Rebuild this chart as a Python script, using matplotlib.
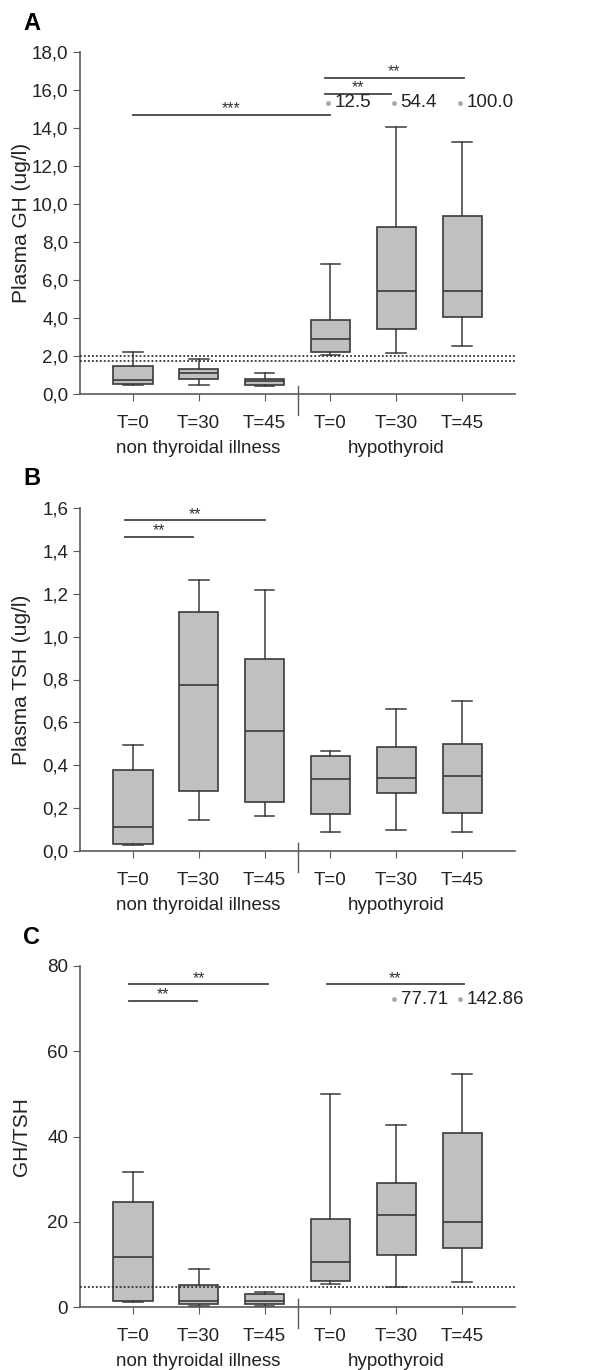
import matplotlib
matplotlib.use("Agg")
import matplotlib.pyplot as plt
from matplotlib.ticker import FuncFormatter

plt.rcParams['font.family'] = ['Liberation Sans', 'DejaVu Sans']

positions = [1, 2, 3, 4, 5, 6]
tick_labels = ['T=0', 'T=30', 'T=45', 'T=0', 'T=30', 'T=45']
groups = ['non thyroidal illness', 'hypothyroid']
group_pos = [2, 5]

# panel A: plasma GH (ug/l)
gh_lo = [0.45, 0.49, 0.40, 2.07, 2.14, 2.54]
gh_q1 = [0.53, 0.77, 0.47, 2.21, 3.44, 4.04]
gh_med = [0.74, 1.12, 0.68, 2.88, 5.42, 5.42]
gh_q3 = [1.47, 1.32, 0.81, 3.89, 8.79, 9.37]
gh_hi = [2.23, 1.84, 1.09, 6.84, 14.07, 13.28]
gh_ref = [2.0, 1.75]
gh_out_pos = [4, 5, 6]
gh_out_lab = ['12.5', '54.4', '100.0']
gh_out_y = 15.33
gh_sig = [(1.0, 4.0, 14.68, '***'), (3.92, 4.92, 15.8, '**'), (3.92, 6.02, 16.65, '**')]

# panel B: plasma TSH (ug/l)
tsh_lo = [0.03, 0.143, 0.162, 0.090, 0.098, 0.087]
tsh_q1 = [0.033, 0.279, 0.230, 0.171, 0.270, 0.179]
tsh_med = [0.11, 0.774, 0.561, 0.335, 0.340, 0.350]
tsh_q3 = [0.377, 1.115, 0.897, 0.441, 0.487, 0.501]
tsh_hi = [0.495, 1.263, 1.218, 0.466, 0.662, 0.701]
tsh_sig = [(0.88, 1.91, 1.466, '**'), (0.88, 3.0, 1.542, '**')]

# panel C: GH/TSH
r_lo = [1.2, 0.2, 0.2, 5.3, 4.7, 5.9]
r_q1 = [1.4, 0.8, 0.63, 6.2, 12.2, 13.85]
r_med = [11.7, 1.4, 1.34, 10.5, 21.5, 20.0]
r_q3 = [24.6, 5.2, 3.05, 20.7, 29.1, 40.9]
r_hi = [31.6, 8.9, 3.6, 50.0, 42.7, 54.6]
r_ref = [4.8]
r_out_pos = [5, 6]
r_out_lab = ['77.71', '142.86']
r_out_y = 72.2
r_sig = [(0.95, 1.97, 71.8, '**'), (0.95, 3.05, 75.7, '**'), (3.94, 6.03, 75.7, '**')]

line_c = '#3a3a3a'
fill_c = '#c0c0c0'
axis_c = '#5a5a5a'

fig = plt.figure(figsize=(5.93, 13.7), dpi=100)
W, H = 593, 1370


def make_ax(top_px, bot_px):
    return fig.add_axes([80 / W, 1 - bot_px / H, 435 / W, (bot_px - top_px) / H])


def panel(ax, lo, q1, med, q3, hi, ymax, yticks, fmt, ylabel, letter, sig,
          refs=(), out_pos=(), out_lab=(), out_y=None):
    stats = []
    for i in range(len(positions)):
        stats.append({'whislo': lo[i], 'q1': q1[i], 'med': med[i],
                      'q3': q3[i], 'whishi': hi[i], 'fliers': []})
    ax.bxp(stats, positions=positions, widths=0.6, patch_artist=True,
           showfliers=False,
           boxprops=dict(facecolor=fill_c, edgecolor=line_c, linewidth=1.2),
           medianprops=dict(color=line_c, linewidth=1.2),
           whiskerprops=dict(color=line_c, linewidth=1.1),
           capprops=dict(color=line_c, linewidth=1.1))
    for r in refs:
        ax.axhline(r, color='#333333', linestyle=(0, (1.0, 1.2)), linewidth=1.3, zorder=3)
    ax.set_xlim(0.2, 6.8)
    ax.set_ylim(0, ymax)
    ax.set_yticks(yticks)
    ax.yaxis.set_major_formatter(FuncFormatter(fmt))
    ax.set_xticks(positions)
    ax.set_xticklabels(tick_labels)
    ax.tick_params(axis='both', colors=axis_c, labelcolor='#222222',
                   labelsize=13.5, length=5, direction='out')
    ax.tick_params(axis='x', pad=10)
    for s in ['top', 'right']:
        ax.spines[s].set_visible(False)
    for s in ['left', 'bottom']:
        ax.spines[s].set_color(axis_c)
        ax.spines[s].set_linewidth(1.2)
    ax.set_ylabel(ylabel, fontsize=15, color='#222222')
    ax.yaxis.set_label_coords(-0.112, 0.5)
    # divider between groups
    trans = ax.get_xaxis_transform()
    h_ax = ax.get_position().height * H
    ax.plot([3.5, 3.5], [8 / h_ax, -21 / h_ax], transform=trans,
            color=axis_c, linewidth=1, clip_on=False)
    for gp, g in zip(group_pos, groups):
        ax.annotate(g, xy=(gp, 0), xycoords=trans, xytext=(0, -54),
                    textcoords='offset pixels', ha='center', va='center',
                    fontsize=13.5, color='#222222')
    for x0, x1, y, st in sig:
        ax.plot([x0, x1], [y, y], color='#444444', linewidth=1.3, clip_on=False)
        ax.annotate(st, xy=((x0 + x1) / 2, y), xytext=(0, -1),
                    textcoords='offset points', ha='center', va='bottom',
                    fontsize=11.5, color='#333333')
    for p, lab in zip(out_pos, out_lab):
        ax.plot(p - 0.04, out_y, 'o', color='#aaaaaa', markersize=2.5, clip_on=False)
        ax.annotate(lab, xy=(p, out_y), xytext=(3, 0), textcoords='offset points',
                    ha='left', va='center', fontsize=13.5, color='#222222',
                    annotation_clip=False)
    top_px = H * (1 - ax.get_position().y1)
    fig.text(23 / W, 1 - (top_px - 29) / H, letter, fontsize=17,
             fontweight='bold', ha='left', va='center')


axA = make_ax(52, 394)
panel(axA, gh_lo, gh_q1, gh_med, gh_q3, gh_hi, 18, [0, 2, 4, 6, 8, 10, 12, 14, 16, 18],
      lambda v, p: ('%.1f' % v).replace('.', ','), 'Plasma GH (ug/l)', 'A', gh_sig,
      refs=gh_ref, out_pos=gh_out_pos, out_lab=gh_out_lab, out_y=gh_out_y)

axB = make_ax(508, 851)
panel(axB, tsh_lo, tsh_q1, tsh_med, tsh_q3, tsh_hi, 1.6,
      [0, 0.2, 0.4, 0.6, 0.8, 1.0, 1.2, 1.4, 1.6],
      lambda v, p: ('%.1f' % v).replace('.', ','), 'Plasma TSH (ug/l)', 'B', tsh_sig)

axC = make_ax(966, 1307)
panel(axC, r_lo, r_q1, r_med, r_q3, r_hi, 80, [0, 20, 40, 60, 80],
      lambda v, p: '%d' % v, 'GH/TSH', 'C', r_sig,
      refs=r_ref, out_pos=r_out_pos, out_lab=r_out_lab, out_y=r_out_y)

fig.savefig('out.png', dpi=100)
